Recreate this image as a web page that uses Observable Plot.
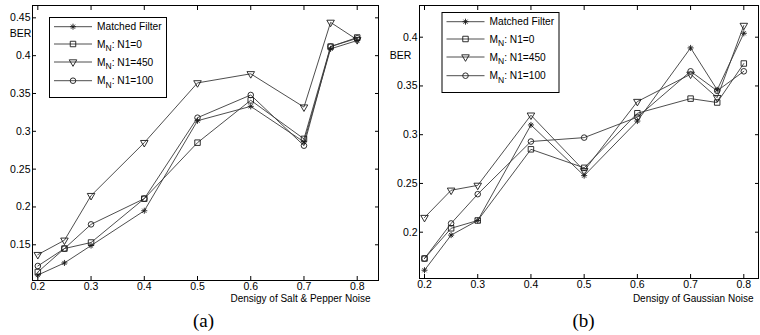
<!DOCTYPE html>
<html><head><meta charset="utf-8">
<script src="https://cdn.jsdelivr.net/npm/d3@7"></script>
<script src="https://cdn.jsdelivr.net/npm/@observablehq/plot@0.6"></script>
<style>
body{margin:0;background:#fff;}
#wrap{display:flex;width:760px;height:335px;}
#wrap > div{width:380px;height:335px;}
</style></head><body><div id="wrap"><div id="pa"></div><div id="pb"></div></div>
<script>
// ---- data ----
const xValues = [0.2, 0.25, 0.3, 0.4, 0.5, 0.6, 0.7, 0.75, 0.8];
const seriesNames = ["Matched Filter", "N1=0", "N1=450", "N1=100"];

// (a) Salt & Pepper
const saltMatched = [0.110, 0.126, 0.149, 0.195, 0.314, 0.333, 0.286, 0.409, 0.420];
const saltN0      = [0.114, 0.145, 0.153, 0.211, 0.285, 0.341, 0.290, 0.412, 0.424];
const saltN450    = [0.137, 0.156, 0.215, 0.285, 0.364, 0.376, 0.332, 0.444, 0.421];
const saltN100    = [0.122, 0.145, 0.177, 0.211, 0.318, 0.348, 0.281, 0.412, 0.423];

// (b) Gaussian
const gaussMatched = [0.161, 0.197, 0.212, 0.310, 0.258, 0.314, 0.389, 0.346, 0.404];
const gaussN0      = [0.173, 0.204, 0.212, 0.285, 0.266, 0.322, 0.337, 0.333, 0.373];
const gaussN450    = [0.215, 0.243, 0.248, 0.320, 0.263, 0.334, 0.362, 0.338, 0.412];
const gaussN100    = [0.173, 0.209, 0.239, 0.293, 0.297, 0.318, 0.365, 0.345, 0.365];

const xTicks = [0.2, 0.3, 0.4, 0.5, 0.6, 0.7, 0.8];
const saltYTicks = [0.15, 0.2, 0.25, 0.3, 0.35, 0.4, 0.45];
const gaussYTicks = [0.2, 0.25, 0.3, 0.35, 0.4];

const SANS = "'Liberation Sans', Arial, sans-serif";
const SERIF = "'Liberation Serif', 'Times New Roman', serif";
const LINE = "#3a3a3a";
const MARK = "#1a1a1a";

function rows(values, name) { return xValues.map((x, i) => ({x, y: values[i], series: name})); }

function panel(el, cfg) {
  const [m, n0, n450, n100] = cfg.series.map((v, i) => rows(v, seriesNames[i]));
  const all = [...m, ...n0, ...n450, ...n100];
  const dotBase = {x: "x", y: "y", fill: "none", stroke: MARK, strokeWidth: 0.9};
  const svg = Plot.plot({
    width: 380, height: 335,
    marginLeft: cfg.ml, marginRight: 2, marginTop: 5, marginBottom: cfg.mb,
    style: {fontFamily: SANS, fontSize: "11px", background: "#fff", color: "#000", overflow: "visible"},
    x: {domain: cfg.xDomain},
    y: {domain: cfg.yDomain},
    marks: [
      Plot.frame({stroke: "#000", strokeWidth: 1}),
      Plot.axisX(xTicks, {anchor: "bottom", tickSize: -4, tickPadding: 6.5, tickFormat: d => String(d), label: null, fontSize: 10.5}),
      Plot.axisX(xTicks, {anchor: "top", tickSize: -4, tickFormat: () => "", label: null}),
      Plot.axisY(cfg.yTicks, {anchor: "left", tickSize: -4, tickPadding: 6, tickFormat: d => String(d), label: null, fontSize: 10.5}),
      Plot.axisY(cfg.yTicks, {anchor: "right", tickSize: -4, tickFormat: () => "", label: null}),
      Plot.line(all, {x: "x", y: "y", z: "series", stroke: LINE, strokeWidth: 0.9}),
      Plot.dot(m, {...dotBase, symbol: "plus", r: 2.1}),
      Plot.dot(m, {...dotBase, symbol: "times", r: 2.0}),
      Plot.dot(n0, {...dotBase, symbol: "square", r: 3.1}),
      Plot.dot(n450, {...dotBase, symbol: "triangle", r: 2.8, rotate: 180}),
      Plot.dot(n100, {...dotBase, symbol: "circle", r: 2.8}),
      Plot.text(["BER"], {frameAnchor: "top-left", dx: cfg.berDx, dy: cfg.berDy, fontSize: 10.5, textAnchor: "middle", lineAnchor: "middle"}),
      Plot.text([cfg.xlabel], {frameAnchor: "bottom-right", dx: cfg.xlDx, dy: cfg.xlDy, fontSize: 10, textAnchor: "end", lineAnchor: "middle"}),
      Plot.text([cfg.caption], {frameAnchor: "bottom", dx: cfg.capDx, dy: cfg.capDy, fontSize: 19, fontFamily: SERIF, lineAnchor: "middle"})
    ]
  });
  // legend (box + samples)
  const g = d3.select(svg).append("g").attr("font-family", SANS).attr("font-size", 10.2).attr("text-anchor", "start");
  const L = cfg.legend[0], T = cfg.legend[1];
  g.append("rect").attr("x", L + 0.5).attr("y", T + 0.5).attr("width", 117).attr("height", 80)
    .attr("fill", "#fff").attr("stroke", "#000").attr("stroke-width", 1);
  const rowY = [9.7, 27, 45, 63.7];
  const sym = (type, r) => d3.symbol(type, Math.PI * r * r)();
  rowY.forEach((dy, i) => {
    const y = T + dy;
    g.append("line").attr("x1", L + 5).attr("x2", L + 43).attr("y1", y).attr("y2", y)
      .attr("stroke", LINE).attr("stroke-width", 0.9);
    const mk = g.append("g").attr("transform", `translate(${L + 24},${y})`)
      .attr("fill", "none").attr("stroke", MARK).attr("stroke-width", 0.9);
    if (i === 0) { mk.append("path").attr("d", sym(d3.symbolPlus, 2.1)); mk.append("path").attr("d", sym(d3.symbolTimes, 2.0)); }
    if (i === 1) mk.append("path").attr("d", sym(d3.symbolSquare, 3.1));
    if (i === 2) mk.append("path").attr("d", sym(d3.symbolTriangle, 2.8)).attr("transform", "rotate(180)");
    if (i === 3) mk.append("path").attr("d", sym(d3.symbolCircle, 2.8));
    const t = g.append("text").attr("x", L + 48).attr("y", y).attr("dy", "0.35em").attr("text-anchor", "start");
    if (i === 0) t.text(seriesNames[0]);
    else {
      t.append("tspan").text("M");
      t.append("tspan").attr("font-size", 8.5).attr("dy", 3.5).text("N");
      t.append("tspan").attr("dy", -3.5).text(": " + seriesNames[i]);
    }
  });
  document.getElementById(el).appendChild(svg);
}

panel("pa", {
  series: [saltMatched, saltN0, saltN450, saltN100],
  xDomain: [0.19, 0.84], yDomain: [0.1028, 0.4663], yTicks: saltYTicks,
  ml: 32, mb: 55, legend: [49, 17],
  berDx: -12, berDy: 28,
  xlabel: "Densigy of Salt & Pepper Noise", xlDx: -8, xlDy: 18,
  caption: "(a)", capDx: -2, capDy: 40
});
panel("pb", {
  series: [gaussMatched, gaussN0, gaussN450, gaussN100],
  xDomain: [0.1906, 0.8276], yDomain: [0.1525, 0.4325], yTicks: gaussYTicks,
  ml: 39, mb: 57, legend: [61.5, 12],
  berDx: -19, berDy: 50,
  xlabel: "Densigy of Gaussian Noise", xlDx: -5, xlDy: 20,
  caption: "(b)", capDx: -5.5, capDy: 42
});
</script></body></html>
